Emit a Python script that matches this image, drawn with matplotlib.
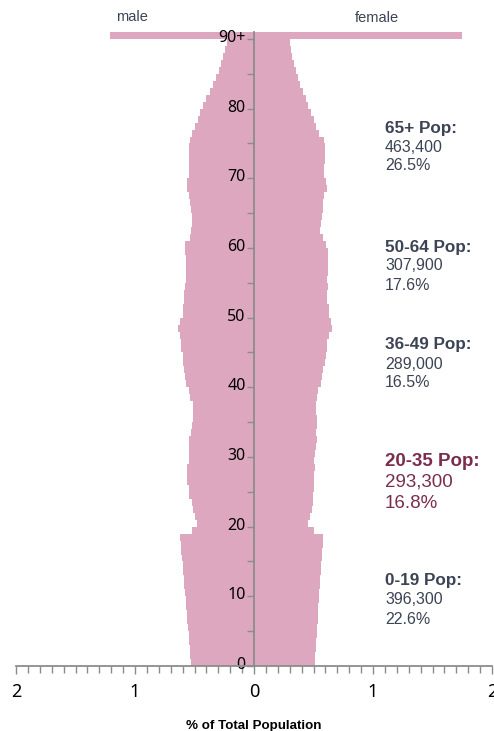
import numpy as np
import matplotlib
matplotlib.use("Agg")
import matplotlib.pyplot as plt
import matplotlib.transforms as mtransforms
from matplotlib.ticker import FixedLocator, MultipleLocator, FuncFormatter

# % of total population by single year of age, 0 .. 89, then 90+
ages = list(range(91))
age_labels = ["0", "10", "20", "30", "40", "50", "60", "70", "80", "90+"]

male = [
    0.53, 0.535, 0.54, 0.545, 0.55, 0.555, 0.56, 0.565, 0.57, 0.575,      # 0-9
    0.58, 0.585, 0.59, 0.595, 0.60, 0.605, 0.61, 0.613, 0.62, 0.52,       # 10-19
    0.48, 0.50, 0.51, 0.524, 0.543, 0.55, 0.56, 0.566, 0.566, 0.55,       # 20-29
    0.543, 0.543, 0.543, 0.53, 0.524, 0.515, 0.515, 0.515, 0.54, 0.55,    # 30-39
    0.57, 0.58, 0.588, 0.594, 0.60, 0.613, 0.616, 0.62, 0.636, 0.62,      # 40-49
    0.60, 0.60, 0.588, 0.588, 0.58, 0.575, 0.574, 0.574, 0.574, 0.58,     # 50-59
    0.58, 0.54, 0.53, 0.524, 0.524, 0.53, 0.54, 0.55, 0.566, 0.56,        # 60-69
    0.55, 0.55, 0.546, 0.545, 0.545, 0.54, 0.52, 0.50, 0.47, 0.45,        # 70-79
    0.43, 0.40, 0.37, 0.345, 0.32, 0.29, 0.275, 0.26, 0.245, 0.23,        # 80-89
    1.21,                                                                 # 90+
]
female = [
    0.51, 0.514, 0.518, 0.522, 0.526, 0.53, 0.534, 0.538, 0.542, 0.546,
    0.55, 0.554, 0.558, 0.562, 0.566, 0.57, 0.574, 0.577, 0.58, 0.50,
    0.455, 0.47, 0.485, 0.493, 0.493, 0.50, 0.504, 0.504, 0.51, 0.504,
    0.513, 0.52, 0.527, 0.52, 0.527, 0.527, 0.52, 0.52, 0.527, 0.54,
    0.56, 0.57, 0.583, 0.597, 0.605, 0.61, 0.616, 0.633, 0.653, 0.644,
    0.633, 0.633, 0.616, 0.61, 0.625, 0.616, 0.62, 0.62, 0.62, 0.625,
    0.605, 0.58, 0.555, 0.56, 0.57, 0.577, 0.58, 0.59, 0.61, 0.605,
    0.59, 0.59, 0.597, 0.60, 0.595, 0.585, 0.55, 0.525, 0.50, 0.475,
    0.455, 0.435, 0.41, 0.39, 0.37, 0.35, 0.335, 0.32, 0.31, 0.30,
    1.75,
]

groups = ["65+ Pop:", "50-64 Pop:", "36-49 Pop:", "20-35 Pop:", "0-19 Pop:"]
group_counts = ["463,400", "307,900", "289,000", "293,300", "396,300"]
group_shares = ["26.5%", "17.6%", "16.5%", "16.8%", "22.6%"]

bar_color = "#DDA8BF"
axis_grey = "#8C8C8C"
slate = "#3B4354"
maroon = "#7B2D4E"

fig = plt.figure(figsize=(4.94, 7.31), dpi=100)
ax = fig.add_axes([16 / 494, 1 - 666 / 731, 476 / 494, 634 / 731])

ax.barh(ages, [-v for v in male], height=1.0, align="edge",
        color=bar_color, linewidth=0)
ax.barh(ages, female, height=1.0, align="edge",
        color=bar_color, linewidth=0)

ax.set_xlim(-2, 2)
ax.set_ylim(0, 91)

for s in ["top", "right"]:
    ax.spines[s].set_visible(False)
ax.spines["left"].set_position(("data", 0))
ax.spines["left"].set_color(axis_grey)
ax.spines["left"].set_linewidth(1.3)
ax.spines["bottom"].set_color(axis_grey)
ax.spines["bottom"].set_linewidth(1.3)

# x axis: absolute percentages, minor ticks every 0.1
ax.xaxis.set_major_locator(MultipleLocator(1))
ax.xaxis.set_minor_locator(MultipleLocator(0.1))
ax.xaxis.set_major_formatter(FuncFormatter(lambda v, p: f"{abs(v):.0f}"))
ax.tick_params(axis="x", which="major", direction="out", length=6, width=1,
               color=axis_grey, pad=6, labelsize=13)
ax.tick_params(axis="x", which="minor", direction="out", length=5, width=1,
               color=axis_grey)
for lbl in ax.get_xticklabels():
    lbl.set_family("Noto Sans")

# y axis: age labels every 10, minor every 5
ax.yaxis.set_major_locator(FixedLocator(list(range(0, 91, 10))))
ax.yaxis.set_minor_locator(FixedLocator(list(range(5, 90, 10))))
ax.set_yticklabels(age_labels, family="Noto Sans", fontsize=11.5)
ax.tick_params(axis="y", which="both", direction="out", length=5, width=1,
               color=axis_grey, pad=1)
lift = mtransforms.ScaledTranslation(0, 3 / 100, fig.dpi_scale_trans)
for lbl in ax.get_yticklabels():
    lbl.set_transform(lbl.get_transform() + lift)

ax.set_xlabel("% of Total Population", family="Liberation Sans",
              fontweight="bold", fontsize=9.6, labelpad=14)

fig.text(132 / 494, 1 - 17 / 731, "male", ha="center", va="center",
         color=slate, family="Liberation Sans", fontsize=10.5)
fig.text(377 / 494, 1 - 18 / 731, "female", ha="center", va="center",
         color=slate, family="Liberation Sans", fontsize=10.5)

# group annotations
tops = [128, 247, 345, 461, 581]
for i, (g, c, s) in enumerate(zip(groups, group_counts, group_shares)):
    big = g.startswith("20-35")
    col = maroon if big else slate
    fs_b = 13.5 if big else 12.3
    fs = 13.5 if big else 11.5
    step = 21 if big else 19
    y0 = tops[i]
    fig.text(385 / 494, 1 - y0 / 731, g, ha="left", va="center", color=col,
             family="Liberation Sans", fontweight="bold", fontsize=fs_b)
    fig.text(385 / 494, 1 - (y0 + step) / 731, c, ha="left", va="center",
             color=col, family="Liberation Sans", fontsize=fs)
    fig.text(385 / 494, 1 - (y0 + 2 * step) / 731, s, ha="left", va="center",
             color=col, family="Liberation Sans", fontsize=fs)

fig.savefig("out.png", dpi=100)
